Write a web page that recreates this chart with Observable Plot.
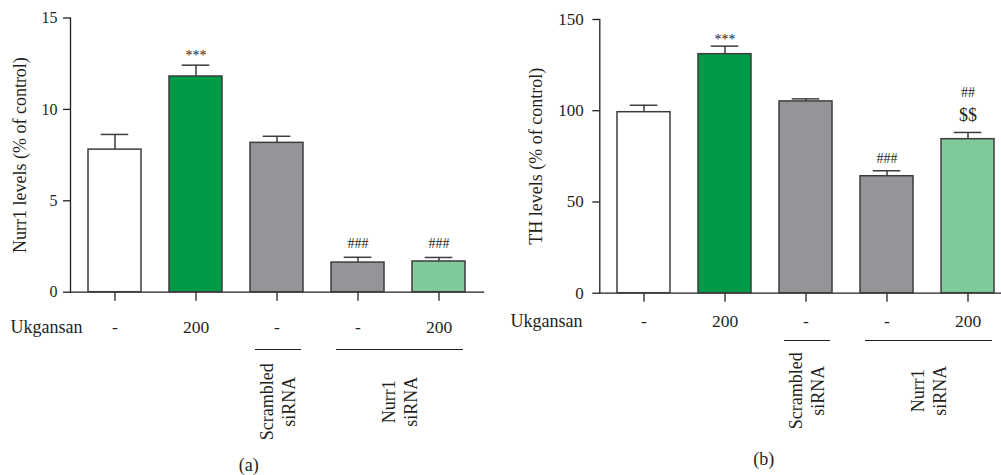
<!DOCTYPE html>
<html><head><meta charset="utf-8">
<script src="https://cdn.jsdelivr.net/npm/d3@7"></script>
<script src="https://cdn.jsdelivr.net/npm/@observablehq/plot@0.6"></script>
<style>
html,body{margin:0;padding:0;background:#fff;overflow:hidden;width:1001px;height:475px;position:relative}
#a{position:absolute;left:0;top:0;width:500px;height:475px}
#b{position:absolute;left:500px;top:0;width:520px;height:475px}
#a svg,#b svg{max-width:none !important;height:475px !important}
svg text{font-family:'Liberation Serif','Times New Roman',serif}
</style></head><body><div id="a"></div><div id="b"></div>
<script>
const groups = ["Control", "Ukgansan 200", "Scrambled siRNA", "Nurr1 siRNA", "Nurr1 siRNA + Ukgansan 200"];
const doses = ["-", "200", "-", "-", "200"];
const fills = ["#ffffff", "#009b48", "#939598", "#939598", "#80c99b"];

const nurr1Mean = [7.8, 11.8, 8.17, 1.62, 1.68];
const nurr1Err = [0.83, 0.62, 0.36, 0.29, 0.22];
const nurr1Ticks = [0, 5, 10, 15];
const nurr1Stars = ["", "***", "", "", ""];
const nurr1Hash = ["", "", "", "###", "###"];

const thMean = [99.2, 131.0, 105.1, 64.1, 84.4];
const thErr = [3.8, 4.4, 1.4, 3.0, 3.7];
const thTicks = [0, 50, 100, 150];
const thStars = ["", "***", "", "", ""];
const thHash = ["", "", "", "###", ""];
const thDollar = ["", "", "", "", "$$"];
const thHashTop = ["", "", "", "", "##"];

const bracketLabels = ["Scrambled\nsiRNA", "Nurr1\nsiRNA"];
const bracketFrom = [groups[2], groups[3]];
const bracketTo = [groups[2], groups[4]];

const INK = "#231f20";
const EDGE = "#3d3d3d";
const FONT = "'Liberation Serif', 'Times New Roman', serif";

function panel(c) {
  const data = groups.map((g, i) => ({
    g, m: c.mean[i], e: c.mean[i] + c.err[i], fill: fills[i], dose: doses[i],
    stars: c.stars[i], hash: c.hash[i], dollar: (c.dollar || [])[i] || "", top: (c.top || [])[i] || ""
  }));
  const brackets = bracketLabels.map((l, i) => ({l, from: bracketFrom[i], to: bracketTo[i]}));
  const T = {fontFamily: FONT, fill: INK};
  return Plot.plot({
    width: c.width, height: 475,
    marginTop: c.mt, marginBottom: c.mb, marginLeft: c.ml, marginRight: c.mr,
    style: {fontFamily: FONT, fontSize: "18px", color: INK, background: "transparent", overflow: "visible"},
    x: {domain: groups, paddingInner: 0.35, paddingOuter: 0.2, axis: null},
    y: {domain: [0, c.yMax], axis: null},
    marks: [
      Plot.axisY({ticks: c.ticks, tickSize: 7, tickPadding: c.tp, fontSize: c.tickFont, fontFamily: FONT, label: null, stroke: INK, strokeWidth: 1.3}),
      Plot.frame({anchor: "left", stroke: INK, strokeWidth: 1.3}),
      Plot.frame({anchor: "bottom", stroke: INK, strokeWidth: 1.3}),
      Plot.axisX({tickSize: 9, tickFormat: () => "", label: null, stroke: INK, strokeWidth: 1.3}),
      Plot.ruleX(data, {x: "g", y1: "m", y2: "e", stroke: EDGE, strokeWidth: 1.5}),
      Plot.tickY(data, {x: "g", y: "e", insetLeft: 12.7, insetRight: 12.7, stroke: EDGE, strokeWidth: 1.5}),
      Plot.barY(data, {x: "g", y: "m", fill: "fill", stroke: EDGE, strokeWidth: 1.5}),
      Plot.text(data, {...T, x: "g", y: "e", text: "stars", dy: c.starDy, fontSize: 14}),
      Plot.text(data, {...T, x: "g", y: "e", text: "hash", dy: c.hashDy, fontSize: 14}),
      Plot.text(data, {...T, x: "g", y: "e", text: "dollar", dy: -17.7, fontSize: 18}),
      Plot.text(data, {...T, x: "g", y: "e", text: "top", dy: -39.7, fontSize: 14}),
      // treatment row
      Plot.text(data, {...T, x: "g", text: "dose", frameAnchor: "bottom", lineAnchor: "middle", dy: c.doseDy, fontSize: 17.5}),
      Plot.text(["Ukgansan"], {...T, frameAnchor: "bottom-left", text: d => d, textAnchor: "start", lineAnchor: "middle", dx: c.ukDx, dy: c.doseDy, fontSize: 18}),
      // siRNA brackets
      Plot.ruleY(brackets, {x1: "from", x2: "to", y: () => 0, dy: c.brDy, insetLeft: 5, insetRight: 2, stroke: INK, strokeWidth: 1.2}),
      Plot.text(brackets.slice(0, 1), {...T, x: "from", text: "l", frameAnchor: "bottom", textAnchor: "middle", lineAnchor: "middle", rotate: -90, dy: c.lblDy, lineHeight: 1.2, fontSize: 18}),
      Plot.text(brackets.slice(1), {...T, x: "from", text: "l", frameAnchor: "bottom", textAnchor: "middle", lineAnchor: "middle", rotate: -90, dx: 41, dy: c.lblDy, lineHeight: 1.2, fontSize: 18}),
      // y title
      Plot.text([c.yLabel], {...T, frameAnchor: "left", text: d => d, textAnchor: "middle", lineAnchor: "middle", rotate: -90, dx: c.titleDx, fontSize: 18}),
      // panel caption
      Plot.text([c.caption], {...T, frameAnchor: "bottom-left", text: d => d, textAnchor: "middle", lineAnchor: "middle", dx: c.capDx, dy: c.capDy, fontSize: 18})
    ]
  });
}

document.getElementById("a").append(panel({
  width: 500, mt: 17.5, mb: 183.3, ml: 70, mr: 17, tp: 6, tickFont: 16,
  mean: nurr1Mean, err: nurr1Err, ticks: nurr1Ticks, yMax: 15,
  stars: nurr1Stars, hash: nurr1Hash, starDy: -10, hashDy: -14,
  doseDy: 35, ukDx: -60, brDy: 57.3, lblDy: 109.5,
  yLabel: "Nurr1 levels (% of control)", titleDx: -50.7,
  caption: "(a)", capDx: 178.3, capDy: 173.3
}));

document.getElementById("b").append(panel({
  width: 520, mt: 19, mb: 182.3, ml: 99.3, mr: 8, tp: 9, tickFont: 17,
  mean: thMean, err: thErr, ticks: thTicks, yMax: 150,
  stars: thStars, hash: thHash, dollar: thDollar, top: thHashTop, starDy: -7, hashDy: -12,
  doseDy: 28, ukDx: -89.3, brDy: 47.3, lblDy: 97.5,
  yLabel: "TH levels (% of control)", titleDx: -63.3,
  caption: "(b)", capDx: 164, capDy: 165.6
}));
</script>
</body></html>
